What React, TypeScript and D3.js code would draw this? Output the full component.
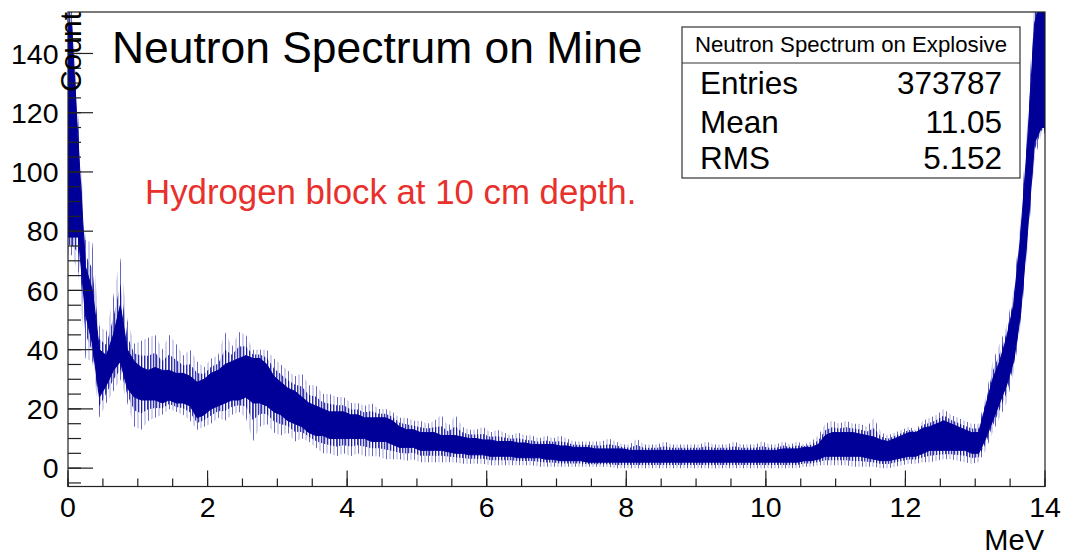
import React from 'react';
import * as d3 from 'd3';

// Histogram: 0.1 MeV bins from 0 to 14 MeV.
// coreLo/coreHi: the dense (solid) band; spikeLo/spikeHi: extent of the thin spikes.
const binWidth = 0.1;
const coreLo = [
  78, 78, 52, 42, 24, 28, 33, 36, 27, 24,
  23, 23, 23, 22, 23, 22, 22, 21, 17, 18,
  20, 21, 22, 23, 23, 24, 22, 22, 21, 19,
  18, 16, 15, 14, 12, 11, 11, 10, 10, 10,
  10, 10, 10, 9, 9, 9, 8, 7, 7, 7,
  6, 6, 6, 6, 5.5, 5, 5, 4.5, 4.5, 4.5,
  4, 4, 4, 4, 3.5, 3.5, 3.5, 3.5, 3, 3,
  2.5, 2.5, 2.5, 2.5, 2, 2, 2, 2, 2, 2,
  2, 2, 2, 2, 2, 2, 2, 2, 2, 2,
  2, 2, 2, 2, 2, 2, 2, 2, 2, 2,
  2, 2, 2, 2, 2, 2.5, 2.5, 3, 4, 4,
  4, 4, 4, 4, 3.5, 3, 2.5, 2.5, 3, 3.5,
  4, 4, 5, 6, 6, 6, 6, 6, 6, 5,
  5, 10, 16, 22, 28, 36, 52, 80, 110, 115,
];
const coreHi = [
  150, 108, 68, 60, 40, 38, 45, 55, 40, 36,
  34, 33, 34, 33, 33, 32, 32, 31, 29, 30,
  32, 33, 35, 36, 37, 38, 37, 37, 35, 31,
  29, 27, 26, 24, 22, 21, 20, 19, 19, 19,
  18, 18, 17, 17, 17, 17, 16, 14, 13, 13,
  12, 12, 12, 11, 11, 11, 10.5, 10, 10, 9.5,
  9.5, 9, 9, 9, 8.5, 8.5, 8, 8, 8, 8,
  7.5, 7.5, 7, 7, 7, 6.5, 6.5, 6.5, 6.5, 6.5,
  6, 6, 6, 6, 6, 6, 6, 6, 6, 6,
  6, 6, 6, 6, 6, 6, 6, 6, 6, 6,
  6, 6, 6.5, 6.5, 6.5, 7, 7, 8, 11, 12,
  12, 12, 12, 11.5, 11, 10.5, 9.5, 9, 10, 11,
  12, 12, 13.5, 14, 15, 16, 15, 14, 13, 12,
  12, 21, 30, 36, 44, 55, 78, 110, 150, 160,
];
const spikeLo = [
  72, 66, 37, 36, 17, 22, 26, 30, 22, 14,
  13, 16, 17, 18, 20, 19, 18, 16, 13, 14,
  15, 17, 16, 18, 19, 17, 9, 14, 15, 12,
  11, 12, 9, 10, 9, 7, 5, 5, 4, 5,
  4, 5, 4, 4, 4, 3, 3, 3, 2.5, 3,
  2, 2, 2, 2, 2, 2, 1.5, 1.5, 1.5, 1.5,
  1, 1, 1, 1, 1, 1, 1, 0.5, 0.5, 0.5,
  0.5, 0.5, 0.5, 0.5, 0.5, 0.5, 0.5, 0.5, 0, 0,
  0, 0, 0, 0, 0, 0, 0, 0, 0, 0,
  0, 0, 0, 0, 0, 0, 0, 0, 0, 0,
  0, 0, 0, 0, 0, 0.5, 0.5, 1, 1, 1,
  1, 1, 0.5, 0.5, 0.5, 0.5, 0, 0, 0.5, 1,
  1.5, 1.5, 2, 2, 2.5, 3, 3, 2.5, 2, 1.5,
  2, 6, 12, 17, 22, 32, 48, 74, 104, 113,
];
const spikeHi = [
  160, 117, 77, 76, 48, 46, 58, 71, 50, 42,
  43, 44, 45, 40, 45, 42, 38, 40, 36, 34,
  37, 38, 46, 41, 46, 45, 40, 40, 40, 37,
  35, 33, 31, 32, 28, 28, 25, 25, 24, 24,
  22, 22, 21, 22, 20, 20, 19, 17, 17, 16,
  16, 15, 16, 18, 14, 18, 14, 13, 13, 14,
  12, 13, 12, 11, 12, 11, 11, 10, 11, 10,
  11, 10, 9, 9, 9, 9, 9, 10, 9, 8,
  8, 10, 8, 8, 8, 9, 8, 8, 8, 8,
  8, 9, 8, 8, 8, 9, 8, 8, 8, 9,
  8, 8, 9, 8, 9, 8, 9, 11, 15, 16,
  15, 16, 15, 15, 14, 17, 12, 11, 12, 13,
  14, 13, 16, 17, 18, 20, 18, 17, 16, 15,
  15, 24, 36, 42, 48, 60, 84, 118, 160, 160,
];

const xTicks = [0, 2, 4, 6, 8, 10, 12, 14];
const yTicks = [0, 20, 40, 60, 80, 100, 120, 140];
const xMinorStep = 0.5;
const yMinorStep = 5;

const title = 'Neutron Spectrum on Mine';
const note = 'Hydrogen block at 10 cm depth.';
const statsTitle = 'Neutron Spectrum on Explosive';
const statsLabels = ['Entries', 'Mean', 'RMS'];
const statsValues = ['373787', '11.05', '5.152'];

const FONT = '"Liberation Sans", Arial, Helvetica, sans-serif';
const BLUE = '#000099';

type P = { x: number; lo: number; hi: number; dip: number; pk: number };

export default function App() {
  const W = 1067;
  const H = 556;
  const fr = { l: 68, r: 1045, t: 12, b: 486.5 };
  const x = d3.scaleLinear().domain([0, 14]).range([fr.l, fr.r]);
  const y = d3.scaleLinear().domain([-6.2, 154]).range([fr.b, fr.t]);

  const pts: P[] = coreLo.map((_, i) => ({
    x: (i + 0.5) * binWidth,
    lo: coreLo[i],
    hi: coreHi[i],
    dip: spikeLo[i],
    pk: spikeHi[i],
  }));
  const ext: P[] = [{ ...pts[0], x: 0 }, ...pts, { ...pts[pts.length - 1], x: 14 }];

  const band = (f0: (d: P) => number, f1: (d: P) => number) =>
    d3
      .area<P>()
      .x((d) => x(d.x))
      .y0((d) => y(f0(d)))
      .y1((d) => y(f1(d)))(ext) as string;

  const corePath = band((d) => d.lo, (d) => d.hi);
  const midPath = band((d) => d.lo - (d.lo - d.dip) * 0.45, (d) => d.hi + (d.pk - d.hi) * 0.45);
  const outerPath = band((d) => d.dip, (d) => d.pk);

  const xMinor = d3.range(0, 14 + 1e-9, xMinorStep);
  const yMinor = d3.range(-5, 150 + 1e-9, yMinorStep);

  const boxL = 682, boxR = 1020, boxT = 27, boxB = 178, boxSep = 63;
  const rowBase = [94.3, 132.7, 169.3];

  return (
    <svg
      width={W}
      height={H}
      style={{ position: 'absolute', left: 0, top: 0, background: '#fff' }}
      fontFamily={FONT}
    >
      <defs>
        <clipPath id="frameClip">
          <rect x={fr.l} y={fr.t} width={fr.r - fr.l} height={fr.b - fr.t} />
        </clipPath>
        <pattern id="spikesOuter" width={7} height={10} patternUnits="userSpaceOnUse">
          <rect x={1} y={0} width={1} height={10} fill={BLUE} fillOpacity={0.6} />
          <rect x={4.5} y={0} width={1} height={10} fill={BLUE} fillOpacity={0.35} />
        </pattern>
        <pattern id="spikesMid" width={3} height={10} patternUnits="userSpaceOnUse">
          <rect x={0} y={0} width={1.3} height={10} fill={BLUE} fillOpacity={0.8} />
        </pattern>
      </defs>
      <rect x={0} y={0} width={W} height={H} fill="#fff" />

      <g clipPath="url(#frameClip)">
        <path d={outerPath} fill="url(#spikesOuter)" />
        <path d={midPath} fill="url(#spikesMid)" />
        <path d={corePath} fill={BLUE} stroke={BLUE} strokeWidth={1} />
      </g>

      {/* frame */}
      <rect x={fr.l} y={fr.t} width={fr.r - fr.l} height={fr.b - fr.t} fill="none" stroke="#222" strokeWidth={1.2} />

      {/* x ticks */}
      {xMinor.map((v) => (
        <line key={'xm' + v} x1={x(v)} x2={x(v)} y1={fr.b} y2={fr.b - 8} stroke="#222" strokeWidth={1.2} />
      ))}
      {xTicks.map((v) => (
        <line key={'xM' + v} x1={x(v)} x2={x(v)} y1={fr.b} y2={fr.b - 16} stroke="#222" strokeWidth={1.2} />
      ))}
      {xTicks.map((v) => (
        <text key={'xl' + v} x={x(v)} y={517} textAnchor="middle" fontSize={28.5} fill="#000">
          {v}
        </text>
      ))}

      {/* y ticks */}
      {yMinor.map((v) => (
        <line key={'ym' + v} x1={fr.l} x2={fr.l + 13} y1={y(v)} y2={y(v)} stroke="#222" strokeWidth={1.2} />
      ))}
      {yTicks.map((v) => (
        <line key={'yM' + v} x1={fr.l} x2={fr.l + 25} y1={y(v)} y2={y(v)} stroke="#222" strokeWidth={1.2} />
      ))}
      {yTicks.map((v) => (
        <text key={'yl' + v} x={58.5} y={y(v) + 10.3} textAnchor="end" fontSize={28.5} fill="#000">
          {v}
        </text>
      ))}

      {/* axis titles */}
      <text x={1044} y={550} textAnchor="end" fontSize={29} fill="#000">
        MeV
      </text>
      <text transform="translate(81,12) rotate(-90)" textAnchor="end" fontSize={30} fill="#000">
        Count
      </text>

      {/* title and note */}
      <text x={112} y={63} fontSize={44.4} fill="#000">
        {title}
      </text>
      <text x={145} y={204} fontSize={34.8} fill="#e8302c">
        {note}
      </text>

      {/* stats box */}
      <rect x={boxL} y={boxT} width={boxR - boxL} height={boxB - boxT} fill="#fff" stroke="#333" strokeWidth={1.2} />
      <line x1={boxL} x2={boxR} y1={boxSep} y2={boxSep} stroke="#333" strokeWidth={1.2} />
      <text x={(boxL + boxR) / 2} y={52} textAnchor="middle" fontSize={22.2} fill="#000">
        {statsTitle}
      </text>
      {statsLabels.map((s, i) => (
        <text key={s} x={700} y={rowBase[i]} fontSize={31.5} fill="#000">
          {s}
        </text>
      ))}
      {statsValues.map((s, i) => (
        <text key={s} x={1002} y={rowBase[i]} textAnchor="end" fontSize={31.5} fill="#000">
          {s}
        </text>
      ))}
    </svg>
  );
}
